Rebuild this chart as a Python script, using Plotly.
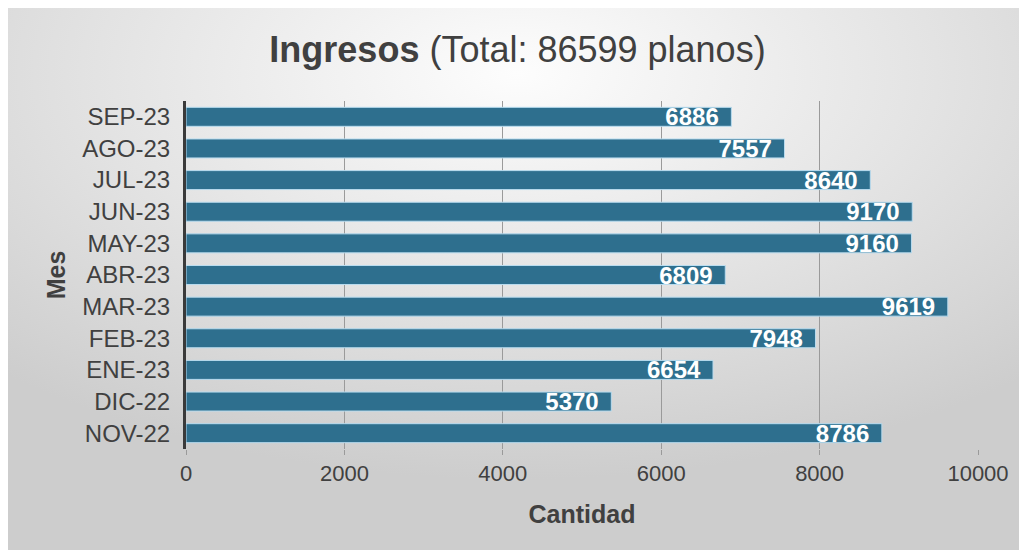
import base64
import plotly.graph_objects as go

# ---- Data ----
meses = ["NOV-22", "DIC-22", "ENE-23", "FEB-23", "MAR-23", "ABR-23",
         "MAY-23", "JUN-23", "JUL-23", "AGO-23", "SEP-23"]
cantidad = [8786, 5370, 6654, 7948, 9619, 6809, 9160, 9170, 8640, 7557, 6886]
total = 86599

FONT = "Liberation Sans, Arial, sans-serif"
TXT = "#404040"

# the page body adds 8px around the figure, so the figure is 8px smaller
W, H = 1019, 542
L, T, PW, PH = 178, 93, 792, 348

# radial gray background panel as an svg image
svg = """<svg xmlns='http://www.w3.org/2000/svg' width='1019' height='542' preserveAspectRatio='none'>
<defs><radialGradient id='g' cx='50%' cy='12%' r='75%'>
<stop offset='0%' stop-color='#fdfdfd'/>
<stop offset='55%' stop-color='#e3e3e3'/>
<stop offset='100%' stop-color='#cdcdcd'/>
</radialGradient></defs>
<rect width='1019' height='542' fill='url(#g)'/></svg>"""
bg_src = "data:image/svg+xml;base64," + base64.b64encode(svg.encode()).decode()

fig = go.Figure()
fig.add_trace(go.Bar(
    y=meses,
    x=cantidad,
    orientation="h",
    width=0.6,
    marker=dict(color="#2e6f8e", line=dict(color="#b9dcef", width=1)),
    text=cantidad,
    texttemplate="%{text}\u2009\u2009",
    textposition="inside",
    insidetextanchor="end",
    constraintext="none",
    textfont=dict(family=FONT, size=24, color="white", weight="bold"),
    cliponaxis=False,
))

fig.update_layout(
    width=W, height=H,
    margin=dict(l=L, r=W - L - PW, t=T, b=H - T - PH, autoexpand=False),
    paper_bgcolor="#e3e3e3",
    plot_bgcolor="rgba(0,0,0,0)",
    font=dict(family=FONT, color=TXT),
    showlegend=False,
    title=dict(
        text="<b>Ingresos</b> (Total: %d planos)" % total,
        x=0.5, xanchor="center", y=1 - 41 / H, yanchor="middle",
        font=dict(size=36, color=TXT),
    ),
    xaxis=dict(
        range=[0, 10000], dtick=2000, tickformat="d",
        automargin=False,
        showgrid=True, gridcolor="#9a9a9a", gridwidth=1,
        zeroline=False, showline=False,
        ticks="outside", ticklen=5, tickcolor="#9a9a9a",
        tickfont=dict(size=22, color=TXT),
        title=dict(text="<b>Cantidad</b>", font=dict(size=25, color=TXT), standoff=20),
    ),
    yaxis=dict(
        automargin=False,
        showgrid=False, zeroline=False,
        showline=True, linecolor="#3a3a3a", linewidth=3,
        ticks="", ticklabelstandoff=8,
        tickfont=dict(size=24, color=TXT),
        title=dict(text="<b>Mes</b>", font=dict(size=25, color=TXT), standoff=10),
    ),
    images=[dict(
        source=bg_src, xref="paper", yref="paper",
        x=-L / PW, y=(T + PH) / PH,
        sizex=W / PW, sizey=H / PH,
        sizing="stretch", xanchor="left", yanchor="top", layer="below",
    )],
)

fig.write_html("out.html")
